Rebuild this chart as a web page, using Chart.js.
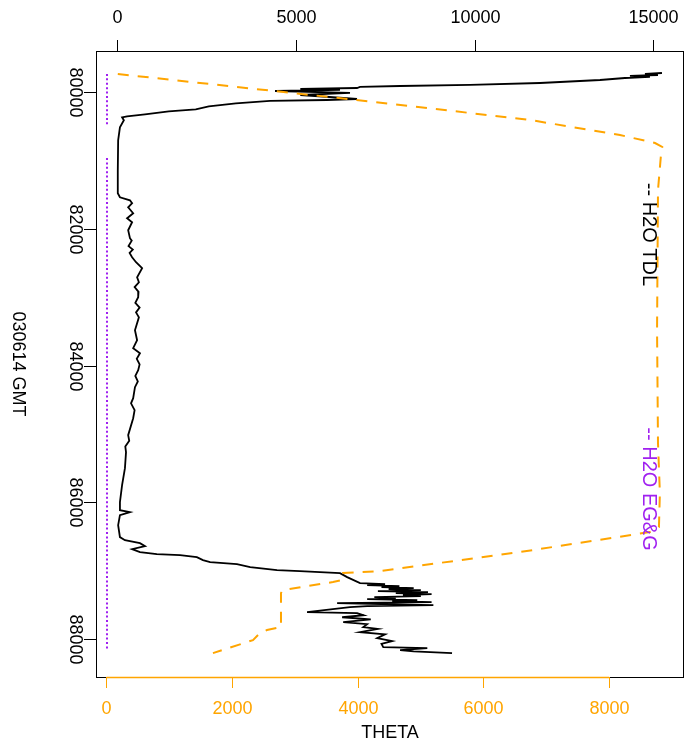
<!DOCTYPE html>
<html>
<head>
<meta charset="UTF-8">
<script src="https://cdn.jsdelivr.net/npm/chart.js"></script>
<style>
  html, body { margin: 0; padding: 0; background: #fff; }
  canvas { display: block; }
</style>
</head>
<body>
<canvas id="chart" width="685" height="745"></canvas>
<script>
// H2O TDL (top axis) against time
const timeTDL = [79718, 79732, 79747, 79761, 79776, 79791, 79820, 79864, 79893, 79908,
  79922, 79937, 79951, 79966, 79981, 80010, 80040, 80069, 80098, 80113,
  80127, 80161, 80205, 80249, 80278, 80322, 80351, 80366, 80410, 80512,
  80702, 81141, 81477, 81536, 81580, 81623, 81682, 81770, 81843, 81901,
  82018, 82135, 82170, 82250, 82300, 82350, 82413, 82486, 82574, 82706,
  82780, 82850, 82920, 82998, 83080, 83150, 83220, 83291, 83481, 83627,
  83744, 83817, 83900, 83980, 84066, 84150, 84230, 84314, 84475, 84550,
  84650, 84768, 85016, 85100, 85180, 85265, 85499, 85748, 85996, 86113,
  86143, 86186, 86333, 86508, 86552, 86596, 86640, 86684, 86728, 86757,
  86771, 86801, 86845, 86874, 86903, 86947, 86991, 87005, 87035, 87093,
  87181, 87195, 87210, 87225, 87239, 87253, 87268, 87283, 87298, 87312,
  87327, 87341, 87356, 87371, 87385, 87400, 87415, 87430, 87444, 87459,
  87473, 87488, 87503, 87517, 87532, 87605, 87619, 87650, 87680, 87710,
  87751, 87780, 87824, 87850, 87898, 87930, 87985, 88030, 88070, 88117,
  88132, 88161, 88180, 88205];
const h2oTDL = [15239, 14764, 15127, 14344, 14903, 14204, 13507, 11831, 9875, 7918,
  6800, 6716, 5132, 6240, 4425, 6520, 5132, 5949, 6716, 5873,
  4285, 3330, 2574, 2210, 1455, 790, 290, 150, 200, 90,
  40, 30, 30, 90, 370, 430, 320, 460, 290, 430,
  320, 370, 420, 330, 450, 360, 430, 540, 710, 570,
  620, 500, 610, 600, 520, 640, 540, 620, 510, 570,
  460, 650, 560, 640, 600, 520, 590, 510, 460, 400,
  500, 460, 320, 350, 240, 260, 230, 150, 90, 90,
  370, 90, 40, 90, 230, 650, 790, 430, 650, 1120,
  1770, 2240, 2410, 2610, 3360, 3730, 4480, 5120, 6240, 6440,
  6800, 7500, 7000, 7900, 7400, 8300, 7600, 8500, 7300, 8700,
  7800, 8800, 8000, 8500, 7200, 7800, 7000, 8400, 7700, 8800,
  6160, 7400, 8850, 7000, 6520, 5320, 6720, 6900, 6300, 7100,
  6330, 7000, 6890, 7300, 6800, 7500, 7280, 7700, 7400, 7450,
  8680, 7920, 8300, 9372];

// THETA (bottom axis)
const timeTheta = [79732, 80142, 80405, 80625, 80742, 80800, 80888, 81429, 83478, 85131,
  85863, 86360, 86434, 86463, 86726, 87004, 87033, 87136, 87165, 87282,
  87326, 87823, 87867, 87911, 88014, 88205];
const theta = [180, 4275, 6742, 8175, 8733, 8848, 8830, 8780, 8765, 8780,
  8810, 8795, 8650, 8445, 6583, 4354, 3765, 3750, 3606, 2810,
  2778, 2778, 2555, 2444, 2332, 1695];

// H2O EG&G (bottom axis), with a gap in the record
const timeEGG = [79732, 80100, 80478, 80700, 80961, 82000, 84000, 86000, 88157];
const h2oEGG = [8, 8, 8, null, 8, 8, 8, 8, 8];

const thetaTicks = [0, 2000, 4000, 6000, 8000];
const tdlTicks = [0, 5000, 10000, 15000];
const timeTicks = [80000, 82000, 84000, 86000, 88000];

const ORANGE = "#FFA500";
const PURPLE = "#A020F0";
const FONT = '"Liberation Sans", Arial, sans-serif';

function pts(ts, vs) {
  return ts.map((t, i) => ({ x: vs[i] == null ? NaN : vs[i], y: t }));
}

const rAxes = {
  id: "rAxes",
  afterDraw(chart) {
    const ctx = chart.ctx;
    const a = chart.chartArea;
    const xb = chart.scales.x, xt = chart.scales.x2, y = chart.scales.y;
    ctx.save();
    // box
    ctx.strokeStyle = "#000";
    ctx.lineWidth = 1;
    ctx.strokeRect(a.left + 0.5, a.top + 0.5, a.right - a.left - 1, a.bottom - a.top);

    ctx.font = "18px " + FONT;
    // top axis (H2O TDL)
    ctx.fillStyle = "#000";
    ctx.textAlign = "center";
    ctx.textBaseline = "middle";
    tdlTicks.forEach((v) => {
      const px = Math.round(xt.getPixelForValue(v)) + 0.5;
      ctx.beginPath();
      ctx.moveTo(px, a.top);
      ctx.lineTo(px, a.top - 11);
      ctx.stroke();
      ctx.fillText(String(v), px, a.top - 33);
    });

    // bottom axis (THETA), orange
    ctx.strokeStyle = ORANGE;
    ctx.fillStyle = ORANGE;
    ctx.lineWidth = 1.5;
    ctx.beginPath();
    ctx.moveTo(xb.getPixelForValue(thetaTicks[0]), a.bottom + 0.5);
    ctx.lineTo(xb.getPixelForValue(thetaTicks[thetaTicks.length - 1]), a.bottom + 0.5);
    ctx.stroke();
    ctx.lineWidth = 1;
    thetaTicks.forEach((v) => {
      const px = Math.round(xb.getPixelForValue(v)) + 0.5;
      ctx.beginPath();
      ctx.moveTo(px, a.bottom);
      ctx.lineTo(px, a.bottom + 11);
      ctx.stroke();
      ctx.fillText(String(v), px, a.bottom + 32);
    });
    ctx.fillStyle = "#000";
    ctx.fillText("THETA", (a.left + a.right) / 2, a.bottom + 56);

    // left axis (time), labels rotated
    ctx.strokeStyle = "#000";
    timeTicks.forEach((v) => {
      const py = Math.round(y.getPixelForValue(v)) + 0.5;
      ctx.beginPath();
      ctx.moveTo(a.left, py);
      ctx.lineTo(a.left - 12, py);
      ctx.stroke();
      ctx.save();
      ctx.translate(a.left - 21, py);
      ctx.rotate(Math.PI / 2);
      ctx.fillText(String(v), 0, 0);
      ctx.restore();
    });
    ctx.save();
    ctx.translate(18, (a.top + a.bottom) / 2);
    ctx.rotate(Math.PI / 2);
    ctx.fillText("030614 GMT", 0, 0);
    ctx.restore();

    // rotated legend texts
    ctx.font = "20px " + FONT;
    const lx = xb.getPixelForValue(8637);
    [["-- H2O TDL", 82080, "#000"], ["-- H2O EG&G", 85804, PURPLE]].forEach(([txt, t, col]) => {
      ctx.save();
      ctx.translate(lx, y.getPixelForValue(t));
      ctx.rotate(Math.PI / 2);
      ctx.fillStyle = col;
      ctx.fillText(txt, 0, 0);
      ctx.restore();
    });
    ctx.restore();
  },
};

new Chart(document.getElementById("chart"), {
  type: "scatter",
  data: {
    datasets: [
      {
        label: "THETA",
        data: pts(timeTheta, theta),
        xAxisID: "x",
        yAxisID: "y",
        showLine: true,
        borderColor: ORANGE,
        borderWidth: 2,
        borderDash: [11, 9],
        pointRadius: 0,
      },
      {
        label: "H2O TDL",
        data: pts(timeTDL, h2oTDL),
        xAxisID: "x2",
        yAxisID: "y",
        showLine: true,
        borderColor: "#000",
        borderWidth: 1.8,
        pointRadius: 0,
      },
      {
        label: "H2O EG&G",
        data: pts(timeEGG, h2oEGG),
        xAxisID: "x",
        yAxisID: "y",
        showLine: true,
        spanGaps: false,
        borderColor: PURPLE,
        borderWidth: 2,
        borderDash: [2, 2.4],
        pointRadius: 0,
      },
    ],
  },
  options: {
    responsive: false,
    animation: false,
    devicePixelRatio: 1,
    layout: { padding: { left: 96, right: 1, top: 51, bottom: 68 } },
    plugins: { legend: { display: false }, tooltip: { enabled: false } },
    scales: {
      x: { type: "linear", position: "bottom", min: -167, max: 9194, display: false },
      x2: { type: "linear", position: "top", min: -579, max: 15855, display: false },
      y: { type: "linear", reverse: true, min: 79396, max: 88554, display: false },
    },
  },
  plugins: [rAxes],
});
</script>
</body>
</html>
